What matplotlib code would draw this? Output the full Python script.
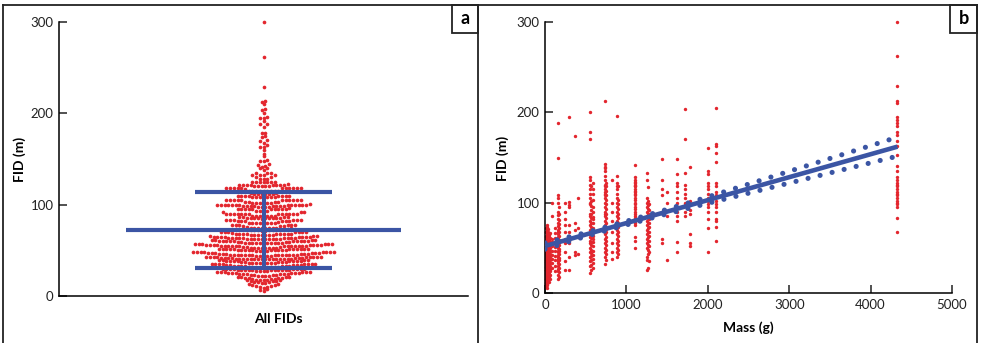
import numpy as np
import matplotlib.pyplot as plt
from matplotlib.lines import Line2D
from matplotlib.patches import Rectangle

plt.rcParams['font.family'] = ['Lato', 'DejaVu Sans']

RED = '#e3262e'
BLUE = '#3b55a4'

# body mass (g) of each species, and the FIDs (m) recorded for it
masses = [10, 15, 20, 25, 30, 40, 45, 50, 60, 80, 120, 160, 170, 250, 300, 370, 400,
          555, 565, 590, 740, 750, 820, 890, 900, 1100, 1110, 1250, 1260, 1280,
          1440, 1500, 1620, 1720, 1780, 2000, 2100, 4330]
fids = [
    [8, 10, 12, 14, 15, 17, 18, 20, 21, 22, 24, 25, 26, 28, 29, 30, 31, 33, 34, 35, 36, 38,
     40, 42, 44, 45, 47, 50, 52, 55, 58, 62, 68, 72],
    [7, 11, 16, 19, 23, 26, 29, 32, 34, 36, 39, 41, 43, 46, 48, 51, 54, 57, 59, 63, 67],
    [6, 9, 11, 13, 16, 19, 22, 23, 25, 27, 28, 30, 32, 33, 35, 37, 38, 40, 41, 43, 45, 46,
     48, 50, 53, 56, 60, 65, 70, 75],
    [13, 18, 21, 24, 27, 30, 33, 35, 37, 40, 42, 44, 46, 49, 52, 54, 56, 59, 61, 64, 69],
    [10, 14, 17, 20, 22, 24, 26, 29, 31, 34, 36, 39, 42, 44, 47, 49, 52, 55, 57, 62, 66, 73],
    [16, 19, 23, 26, 29, 31, 34, 37, 39, 43, 45, 48, 50, 53, 56, 58, 63, 67, 71],
    [12, 18, 21, 25, 28, 32, 35, 38, 41, 45, 48, 51, 55, 58, 60, 64],
    [21, 26, 30, 34, 38, 41, 44, 47, 49, 53, 56, 59, 62, 65],
    [15, 20, 24, 27, 30, 33, 37, 40, 43, 47, 50, 54, 57, 61, 66],
    [28, 33, 38, 42, 46, 52, 56, 60, 85, 100],
    [24, 30, 36, 41, 46, 51, 56, 61, 66, 72],
    [15, 20, 24, 27, 30, 33, 35, 38, 40, 42, 45, 47, 50, 52, 55, 57, 60, 62, 65, 68, 70, 74,
     78, 82, 86, 90, 100, 105, 108, 149, 188],
    [18, 23, 28, 32, 36, 39, 43, 46, 49, 53, 56, 59, 63, 67, 72, 76, 81, 88, 95],
    [25, 35, 45, 55, 60, 68, 75, 82, 90, 100],
    [25, 40, 55, 58, 62, 68, 75, 95, 97, 101, 195],
    [42, 45, 70, 77, 174],
    [43, 62, 72, 105],
    [22, 30, 35, 40, 45, 50, 55, 58, 62, 65, 70, 75, 80, 85, 88, 98, 100, 105, 110, 115,
     120, 125, 128, 170, 178, 200],
    [26, 31, 36, 41, 44, 48, 53, 56, 61, 64, 68, 73, 78, 83, 87, 92, 96, 102, 118],
    [28, 33, 38, 42, 47, 52, 57, 60, 63, 67, 72, 77, 82, 84, 90, 95, 103, 110, 115, 122],
    [32, 40, 45, 50, 55, 60, 65, 68, 70, 72, 75, 80, 85, 88, 90, 95, 100, 105, 108, 110,
     112, 115, 118, 120, 125, 130, 135, 138, 140, 143, 213],
    [36, 43, 48, 53, 58, 62, 67, 71, 78, 83, 87, 93, 98, 103, 108, 113, 118, 122],
    [38, 45, 55, 68, 80, 90, 100, 125],
    [40, 45, 50, 55, 60, 65, 70, 75, 80, 85, 90, 95, 100, 105, 110, 115, 118, 122, 130, 196],
    [43, 48, 53, 58, 63, 68, 73, 78, 83, 88, 93, 98, 103, 118],
    [50, 58, 75, 80, 85, 90, 95, 100, 105, 110, 112, 115, 118, 120, 123, 125, 128, 142],
    [62, 78, 83, 88, 93, 98, 103, 108, 113, 118, 122],
    [25, 37, 40, 50, 55, 60, 65, 70, 75, 80, 85, 90, 95, 100, 105, 125, 133],
    [28, 43, 48, 53, 58, 62, 67, 72, 77, 83, 87, 93, 97, 102, 117],
    [35, 45, 52, 58, 63, 68, 73, 78, 82, 88, 92, 98],
    [55, 60, 90, 108, 115, 125, 148],
    [36, 85, 100, 112],
    [45, 57, 80, 85, 90, 100, 105, 112, 118, 122, 132, 148],
    [85, 90, 97, 100, 105, 110, 115, 120, 133, 171, 204],
    [52, 55, 65, 88, 92, 97, 102, 140],
    [45, 72, 82, 90, 95, 98, 102, 105, 110, 115, 118, 122, 132, 135, 160],
    [58, 73, 80, 82, 90, 95, 98, 102, 108, 112, 118, 122, 145, 155, 163, 165, 205],
    [67, 83, 95, 98, 100, 102, 105, 108, 110, 112, 115, 118, 120, 122, 125, 128, 135, 141,
     153, 163, 168, 175, 178, 185, 188, 192, 195, 210, 212, 229, 262, 300],
]

# fitted line and its 95% band
fit_mass = [0, 4330]
fit_fid = [52, 162]
band_mass = [0, 500, 1000, 1500, 2000, 2500, 3000, 3500, 4000, 4330]
band_upper = [55.5, 66.7, 79.4, 92.6, 106.3, 120.5, 134.7, 148.9, 163.1, 172.5]
band_lower = [48.5, 62.7, 75.4, 87.6, 99.3, 110.5, 121.7, 132.9, 144.1, 151.5]

all_mass = np.concatenate([[m] * len(f) for m, f in zip(masses, fids)])
all_fid = np.concatenate([np.array(f, float) for f in fids])


def swarm(vals, binw, step):
    # prism style: points grouped in rows, spread sideways from the centre
    vals = np.sort(vals)
    rows = np.floor(vals / binw).astype(int)
    xs = np.zeros_like(vals)
    for r in np.unique(rows):
        idx = np.where(rows == r)[0]
        n = len(idx)
        slots = (np.arange(n) - (n - 1) / 2) * step
        order = np.argsort(np.abs(slots) + np.sign(slots) * 1e-6, kind='stable')
        xs[idx] = slots[order]
    return xs, vals


fig = plt.figure(figsize=(9.82, 3.43), dpi=100)
W, H = 982, 343

def box(x0, y0, x1, y1):
    return [x0 / W, 1 - y1 / H, (x1 - x0) / W, (y1 - y0) / H]

ax1 = fig.add_axes(box(59, 22, 468, 296))
ax2 = fig.add_axes(box(545, 22, 952, 293))

# panel a
sx, sy = swarm(all_fid, 4.4, 0.0181)
ax1.scatter(sx, sy, s=7, color=RED, linewidths=0, clip_on=False, zorder=2)
mean = np.mean(all_fid)
sd = np.std(all_fid, ddof=1)
ax1.plot([-0.67, 0.67], [mean, mean], color=BLUE, lw=3, solid_capstyle='butt', zorder=3)
for v in (mean - sd, mean + sd):
    ax1.plot([-0.333, 0.333], [v, v], color=BLUE, lw=3, solid_capstyle='butt', zorder=3)
ax1.plot([0, 0], [mean - sd, mean + sd], color=BLUE, lw=3, solid_capstyle='butt', zorder=3)
ax1.set_xlim(-1, 1)
ax1.set_ylim(0, 300)
ax1.set_xticks([])

# panel b
ax2.scatter(all_mass, all_fid, s=6, color=RED, linewidths=0, clip_on=False, zorder=2)
ax2.plot(fit_mass, fit_fid, color=BLUE, lw=3.3, solid_capstyle='butt', zorder=3)
for b in (band_upper, band_lower):
    ax2.plot(band_mass, b, color=BLUE, lw=3.7, ls=(0, (0.01, 2.4)),
             dash_capstyle='round', zorder=3)
ax2.set_xlim(0, 5000)
ax2.set_ylim(0, 300)
ax2.set_xticks(range(0, 5001, 1000))

for ax in (ax1, ax2):
    ax.spines[['top', 'right']].set_visible(False)
    for s in ('left', 'bottom'):
        ax.spines[s].set_linewidth(1.1)
    ax.set_yticks([0, 100, 200, 300])
    ax.tick_params(direction='in', length=6, width=1.1, labelsize=9.5, pad=4,
                   colors='#222222')

fig.text(278 / W, 1 - 319 / H, 'All FIDs', ha='center', va='center', weight='bold', size=10)
fig.text(748 / W, 1 - 328 / H, 'Mass (g)', ha='center', va='center', weight='bold', size=10)
fig.text(20 / W, 1 - 159 / H, 'FID (m)', ha='center', va='center', rotation=90,
         weight='bold', size=10)
fig.text(503 / W, 1 - 158 / H, 'FID (m)', ha='center', va='center', rotation=90,
         weight='bold', size=10)

# outer frame and the divider between the panels
frame = dict(color='#222222', lw=1.3, transform=fig.transFigure)
fig.add_artist(Line2D([3 / W, 977 / W], [1 - 5 / H, 1 - 5 / H], **frame))
for x in (3, 478, 977):
    fig.add_artist(Line2D([x / W, x / W], [0, 1 - 5 / H], **frame))

for x0, x1, lab in ((452, 478, 'a'), (950, 977, 'b')):
    fig.add_artist(Rectangle((x0 / W, 1 - 33 / H), (x1 - x0) / W, 28 / H,
                             transform=fig.transFigure, facecolor='white',
                             edgecolor='#222222', lw=1.3))
    fig.text((x0 + x1) / 2 / W, 1 - 19 / H, lab, ha='center', va='center',
             weight='bold', size=13)

fig.savefig('out.png', dpi=100)
